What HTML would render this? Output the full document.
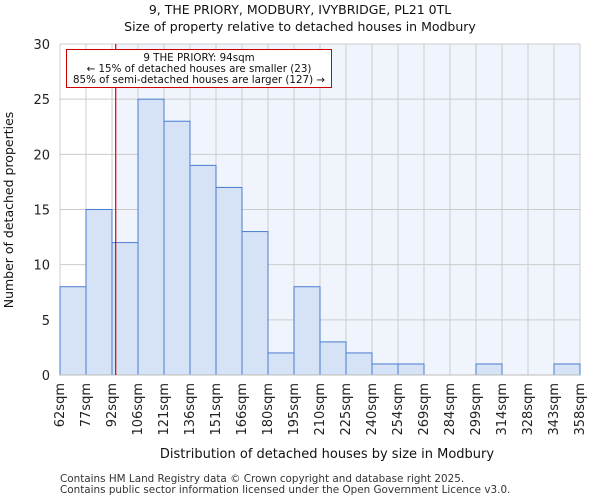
<!DOCTYPE html>
<html><head><meta charset="utf-8"><style>
body{margin:0;background:#fff;font-family:"DejaVu Sans","Liberation Sans",sans-serif}
</style></head><body>
<svg id="c" width="600" height="500" xmlns="http://www.w3.org/2000/svg" font-family="DejaVu Sans, Liberation Sans, sans-serif"></svg>
<script>
const categories=["62sqm","77sqm","92sqm","106sqm","121sqm","136sqm","151sqm","166sqm","180sqm","195sqm","210sqm","225sqm","240sqm","254sqm","269sqm","284sqm","299sqm","314sqm","328sqm","343sqm","358sqm"];
const binStarts=[62,77,92,106,121,136,151,166,180,195,210,225,240,254,269,284,299,314,328,343,358];
const counts=[8,15,12,25,23,19,17,13,2,8,3,2,1,1,0,0,1,0,0,1];
const yTicks=[0,5,10,15,20,25,30];
const subject=94;
const svg=document.getElementById('c');const NS='http://www.w3.org/2000/svg';
const L=60,R=580,T=44,B=375,yMax=30,n=counts.length,bw=(R-L)/n;
const x=i=>L+i*bw;
const y=v=>B-(v/yMax)*(B-T);
function el(t,a,txt){const e=document.createElementNS(NS,t);for(const k in a)e.setAttribute(k,a[k]);if(txt!=null)e.textContent=txt;svg.appendChild(e);return e;}
function xv(v){for(let i=0;i<n;i++){if(v<=binStarts[i+1])return x(i)+(v-binStarts[i])/(binStarts[i+1]-binStarts[i])*bw;}return R;}
const sx=xv(subject);
let e;
e=el('rect',{x:L,y:T,width:R-L,height:B-T,fill:'#fff'});


e=el('rect',{x:sx,y:T,width:R-sx,height:B-T,fill:'#f0f4fc'});


for(const t of yTicks){e=el('line',{x1:L,x2:R,y1:y(t),y2:y(t),stroke:'#cccccc','stroke-width':1});


e=el('text',{x:L-10,y:y(t)+5,'text-anchor':'end','font-size':13,fill:'#222'},t);

}
for(let i=0;i<=n;i++){e=el('line',{x1:x(i),x2:x(i),y1:T,y2:B,stroke:'#cccccc','stroke-width':1});

}
counts.forEach((c,i)=>{if(c<=0)return;e=el('rect',{x:x(i),y:y(c),width:bw,height:B-y(c),fill:'#d6e2f5',stroke:'#4a7cd0','stroke-width':1});

});
e=el('line',{x1:L,x2:R,y1:B,y2:B,stroke:'#bbb'});


categories.forEach((c,i)=>{e=el('text',{transform:`translate(${x(i)+4},${B+8}) rotate(-90)`,'text-anchor':'end','font-size':13,fill:'#222'},c);

});
e=el('line',{x1:sx,x2:sx,y1:T,y2:B,stroke:'#dd0000','stroke-width':1.2});


e=el('rect',{x:66.5,y:49.5,width:265,height:38,fill:'#fff',stroke:'#cc0000','stroke-width':1});


[["9 THE PRIORY: 94sqm",61],["← 15% of detached houses are smaller (23)",72],["85% of semi-detached houses are larger (127) →",83]].forEach(([t,yy])=>{e=el('text',{x:199,y:yy,'text-anchor':'middle','font-size':10.3,fill:'#111'},t);

});
e=el('text',{x:300,y:14,'text-anchor':'middle','font-size':12.5,fill:'#111'},"9, THE PRIORY, MODBURY, IVYBRIDGE, PL21 0TL");


e=el('text',{x:300,y:31,'text-anchor':'middle','font-size':12.5,fill:'#111'},"Size of property relative to detached houses in Modbury");


e=el('text',{transform:'translate(13,210) rotate(-90)','text-anchor':'middle','font-size':12.5,fill:'#111'},"Number of detached properties");


e=el('text',{x:327,y:458,'text-anchor':'middle','font-size':13,fill:'#111'},"Distribution of detached houses by size in Modbury");


e=el('text',{x:60,y:482,'font-size':10.4,fill:'#333'},"Contains HM Land Registry data © Crown copyright and database right 2025.");


e=el('text',{x:60,y:493,'font-size':10.4,fill:'#333'},"Contains public sector information licensed under the Open Government Licence v3.0.");


</script>
</body></html>
